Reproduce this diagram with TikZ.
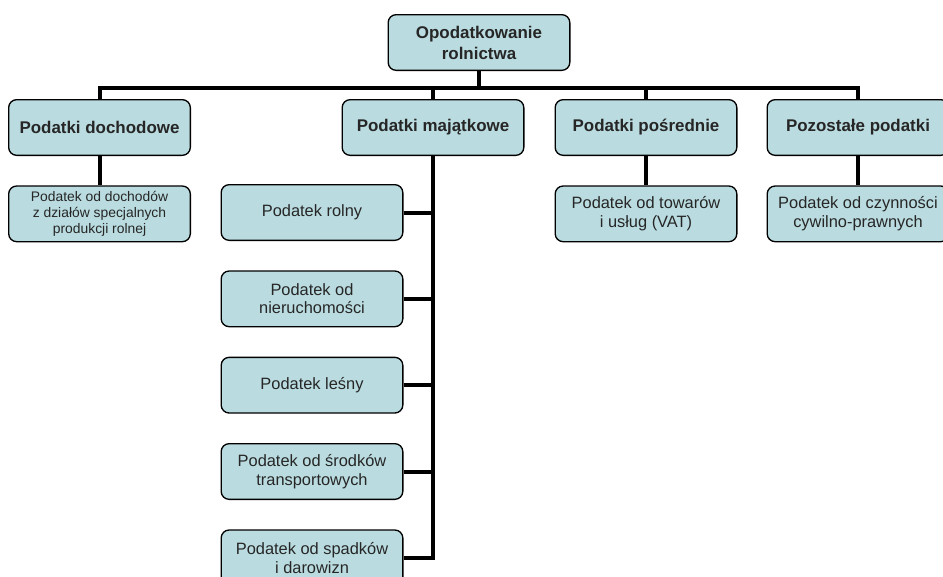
\documentclass[tikz,border=0pt]{standalone}
\usepackage{fontspec}
\setmainfont{Liberation Sans}
\usetikzlibrary{positioning}
\definecolor{boxfill}{RGB}{186,220,224}
\definecolor{boxtext}{RGB}{38,38,38}

\begin{document}
\begin{tikzpicture}[
			x=0.75pt, y=-0.75pt,
			node distance=22pt,
			box/.style = {draw=black, line width=1pt, fill=boxfill, rounded corners=6pt,
				text=boxtext, align=center, inner sep=2pt,
				minimum width=136.25pt, minimum height=41.75pt},
			head/.style = {box, font=\fontsize{12.7}{15.8}\selectfont\bfseries},
			sub/.style = {box, font=\fontsize{12.3}{13.8}\selectfont},
			small/.style = {box, font=\fontsize{10.4}{12.2}\selectfont},
			link/.style = {line width=3pt}
		]
		\useasboundingbox (0,0) rectangle (943,576);
		\clip (0,0) rectangle (943,576);
		\node[head] (root) at (479,42.5) {Opodatkowanie\\rolnictwa};
		\node[head] (dochodowe) at (99.5,127.5) {Podatki dochodowe};
		\node[head] (majatkowe) at (433,127.5) {Podatki majątkowe};
		\node[head] (posrednie) at (646,127.5) {Podatki pośrednie};
		\node[head] (pozostale) at (858,127.5) {Pozostałe podatki};
		\node[small] (dochody) [below=of dochodowe] {Podatek od dochodów\\z działów specjalnych\\produkcji rolnej};
		\node[sub] (vat) [below=of posrednie] {Podatek od towarów\\i usług (VAT)};
		\node[sub] (czynnosci) [below=of pozostale] {Podatek od czynności\\cywilno-prawnych};
		\node[sub] (rolny) at (312,212.5) {Podatek rolny};
		\node[sub] (nieruch) [below=of rolny] {Podatek od\\nieruchomości};
		\node[sub] (lesny) [below=of nieruch] {Podatek leśny};
		\node[sub] (transport) [below=of lesny] {Podatek od środków\\transportowych};
		\node[sub] (spadki) [below=of transport] {Podatek od spadków\\i darowizn};
		\coordinate (bus) at (479,87.5);
		\draw[link] (root) -- (bus);
		\foreach \n in {dochodowe,majatkowe,posrednie,pozostale}
			\draw[link] (\n) |- (bus);
		\draw[link] (dochodowe) -- (dochody);
		\draw[link] (posrednie) -- (vat);
		\draw[link] (pozostale) -- (czynnosci);
		\draw[link] (majatkowe) |- (spadki);
		\foreach \n in {rolny,nieruch,lesny,transport}
			\draw[link] (\n) -- (\n -| majatkowe);
	\end{tikzpicture}
\end{document}
